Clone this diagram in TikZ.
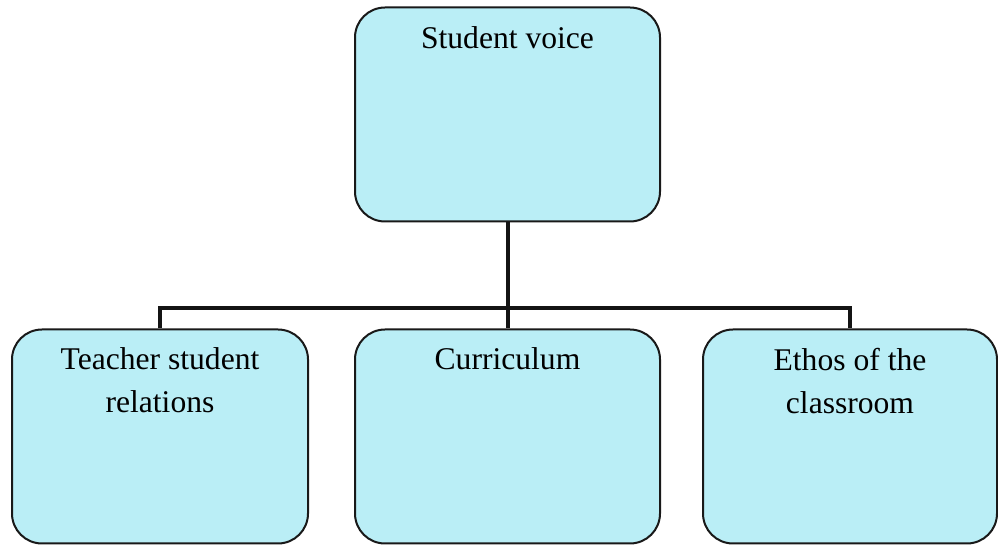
\documentclass[tikz,border=0pt]{standalone}
\usepackage{fontspec}
\setmainfont{Liberation Serif}
\definecolor{voicecyan}{RGB}{186,238,246}
\begin{document}
\begin{tikzpicture}[x=0.5pt,y=-0.5pt,
    box/.style={draw=black!90, line width=1pt, fill=voicecyan,
      rounded corners=15pt, inner sep=0pt,
      minimum width=#1, minimum height=107pt},
    title/.style={anchor=north, inner sep=0pt, align=center,
      font=\fontsize{15.8}{21.5}\selectfont},
    link/.style={line width=2pt, black!92}]
  \useasboundingbox (0,0) rectangle (998,545);
  % boxes
  \node[box=152.5pt] (voice) at (507.5,114.5) {};
  \node[box=148pt] (relations) at (160,436.5) {};
  \node[box=152.5pt] (curriculum) at (507.5,436.5) {};
  \node[box=147pt] (ethos) at (850,436.5) {};
  % texts
  \node[title] (tvoice) at ([yshift=-10pt]voice.north) {Student voice};
  \node[title] (trelations) at ([yshift=-9.5pt]relations.north) {Teacher student\\relations};
  \node[title] (tcurriculum) at ([yshift=-9.5pt]curriculum.north) {Curriculum};
  \node[title] (tethos) at ([yshift=-9.5pt]ethos.north) {Ethos of the\\classroom};
  % connectors
  \coordinate (bar) at (507.5,308);
  \draw[link] (voice.south) -- (bar);
  \draw[link] (relations.north) |- (bar) -| (ethos.north);
  \draw[link] (bar) -- (curriculum.north);
\end{tikzpicture}
\end{document}
